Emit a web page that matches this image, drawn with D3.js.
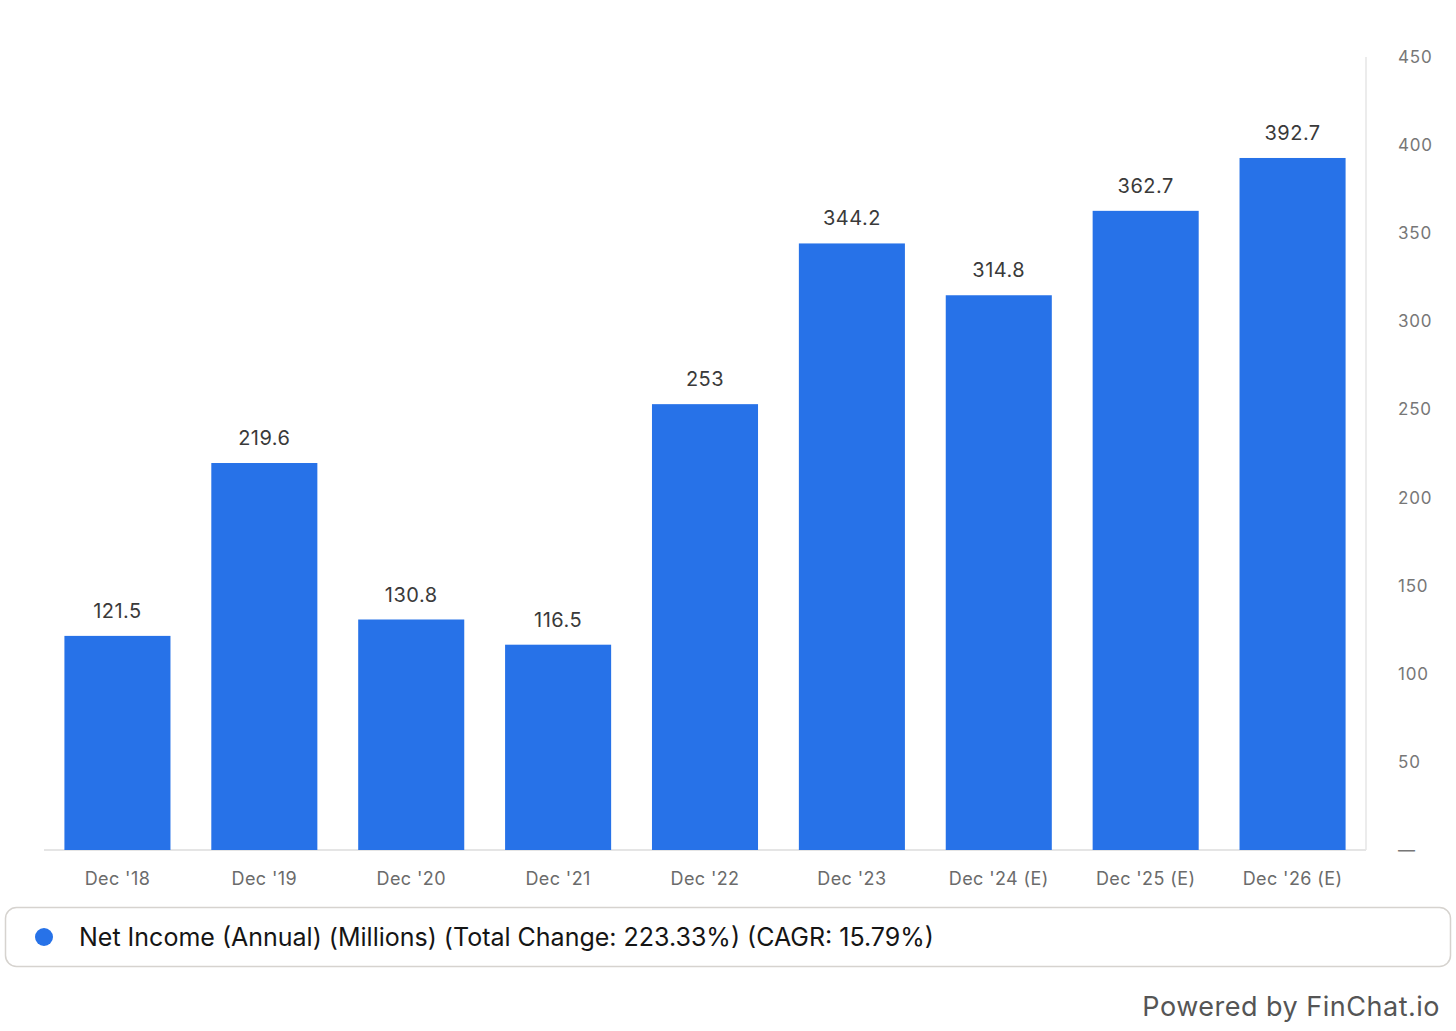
<!DOCTYPE html>
<html><head><meta charset="utf-8">
<script src="https://cdn.jsdelivr.net/npm/d3@7"></script>
<style>
html,body{margin:0;padding:0;background:#fff;}
text{font-family:Inter,"Noto Sans",sans-serif;}
</style></head>
<body><svg id="c" width="1456" height="1031"></svg>
<script>
const categories = ["Dec '18","Dec '19","Dec '20","Dec '21","Dec '22","Dec '23","Dec '24 (E)","Dec '25 (E)","Dec '26 (E)"];
const values = [121.5, 219.6, 130.8, 116.5, 253, 344.2, 314.8, 362.7, 392.7];
const valueLabels = ["121.5","219.6","130.8","116.5","253","344.2","314.8","362.7","392.7"];
const yTicks = [0,50,100,150,200,250,300,350,400,450];
const legendText = "Net Income (Annual) (Millions) (Total Change: 223.33%) (CAGR: 15.79%)";
const footerText = "Powered by FinChat.io";

const svg = d3.select("#c");
const x = d3.scaleBand().domain(categories).range([44,1366]).paddingInner(0.278).paddingOuter(0.139);
const y = d3.scaleLinear().domain([0,450]).range([850,57]);
const barColor = "#2772e8";

// axis lines
svg.append("line").attr("x1",44).attr("x2",1366).attr("y1",y(0)).attr("y2",y(0)).attr("stroke","#dcdcdc").attr("stroke-width",1.5);
svg.append("line").attr("x1",1366).attr("x2",1366).attr("y1",y(450)).attr("y2",y(0)).attr("stroke","#e6e6e6").attr("stroke-width",1.5);

// bars
svg.selectAll("rect.bar").data(values).join("rect").attr("class","bar")
  .attr("x",(d,i)=>x(categories[i])).attr("width",x.bandwidth())
  .attr("y",d=>y(d)).attr("height",d=>y(0)-y(d)).attr("fill",barColor);

// value labels
svg.selectAll("text.val").data(values).join("text").attr("class","val")
  .attr("x",(d,i)=>x(categories[i])+x.bandwidth()/2).attr("y",d=>y(d)-18)
  .attr("text-anchor","middle").attr("font-size",20).attr("letter-spacing",0.5).attr("fill","#3a3a3a").text((d,i)=>valueLabels[i]);

// x labels
svg.selectAll("text.xl").data(categories).join("text").attr("class","xl")
  .attr("x",d=>x(d)+x.bandwidth()/2).attr("y",885)
  .attr("text-anchor","middle").attr("font-size",18).attr("letter-spacing",0.4).attr("fill","#6b6b6b").text(d=>d);

// y ticks
svg.selectAll("text.yt").data(yTicks).join("text").attr("class","yt")
  .attr("x",1398).attr("y",d=>y(d)+6)
  .attr("font-size",17).attr("letter-spacing",0.8).attr("fill","#777").text(d=>d===0?"—":d);

// legend
svg.append("rect").attr("x",5.5).attr("y",907.5).attr("width",1445).attr("height",59).attr("rx",11)
  .attr("fill","#fff").attr("stroke","#d6d3cf").attr("stroke-width",1.5);
svg.append("circle").attr("cx",44).attr("cy",937).attr("r",9).attr("fill",barColor);
svg.append("text").attr("x",79).attr("y",946).attr("font-size",25).attr("fill","#151515").text(legendText);

// footer
svg.append("text").attr("x",1440).attr("y",1016).attr("text-anchor","end").attr("font-size",27).attr("letter-spacing",0.5).attr("fill","#555").text(footerText);
</script></body></html>
